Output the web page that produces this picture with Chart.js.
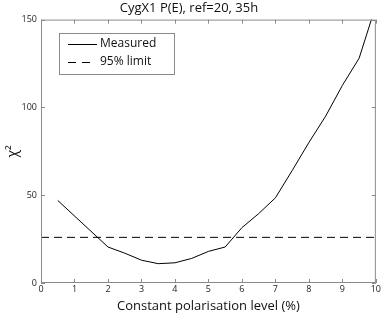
<!DOCTYPE html>
<html>
<head>
<meta charset="utf-8">
<script src="https://cdn.jsdelivr.net/npm/chart.js@4/dist/chart.umd.min.js"></script>
<style>
  html, body { margin: 0; padding: 0; background: #fff; }
  #box { width: 382px; height: 314px; }
</style>
</head>
<body>
<div id="box"><canvas id="grafica"></canvas></div>
<script>
// === datos ===
const nivelPol = [0.5, 2, 2.5, 3, 3.5, 4, 4.5, 5, 5.5, 6, 6.5, 7, 7.5, 8, 8.5, 9, 9.5, 10];
const chiMedido = [47, 20.5, 17, 13, 11, 11.5, 14, 18, 20.5, 31.5, 39.5, 48.5, 64, 80, 95, 112.5, 128, 158];
const limite95 = 26;
const xTicks = [0, 1, 2, 3, 4, 5, 6, 7, 8, 9, 10];
const yTicks = [0, 50, 100, 150];
const etiquetas = ['Measured', '95% limit'];

const fuente = "'Open Sans', 'DejaVu Sans', sans-serif";
const gris = '#8a8a8a';

// marco con ticks hacia dentro (estilo matlab) + leyenda dentro del area
const marcoPlugin = {
    id: 'marco',
    afterDraw(chart) {
        const { ctx, chartArea: a, scales } = chart;
        ctx.save();
        ctx.strokeStyle = gris;
        ctx.lineWidth = 1;
        ctx.strokeRect(a.left + 0.5, a.top + 0.5, a.right - a.left - 1, a.bottom - a.top - 1);
        ctx.beginPath();
        xTicks.forEach(v => {
            const px = Math.round(scales.x.getPixelForValue(v)) + 0.5;
            ctx.moveTo(px, a.bottom); ctx.lineTo(px, a.bottom - 4);
            ctx.moveTo(px, a.top); ctx.lineTo(px, a.top + 4);
        });
        yTicks.forEach(v => {
            const py = Math.round(scales.y.getPixelForValue(v)) + 0.5;
            ctx.moveTo(a.left, py); ctx.lineTo(a.left + 4, py);
            ctx.moveTo(a.right, py); ctx.lineTo(a.right - 4, py);
        });
        ctx.stroke();

        // leyenda
        const lx = 59, ly = 33, lw = 115, lh = 41;
        ctx.fillStyle = '#fff';
        ctx.fillRect(lx, ly, lw, lh);
        ctx.strokeStyle = gris;
        ctx.strokeRect(lx + 0.5, ly + 0.5, lw, lh);
        ctx.strokeStyle = '#000';
        ctx.lineWidth = 1;
        ctx.beginPath();
        ctx.moveTo(68, 44.5); ctx.lineTo(97, 44.5);
        ctx.stroke();
        ctx.beginPath();
        ctx.moveTo(68, 62.5); ctx.lineTo(76, 62.5);
        ctx.moveTo(82, 62.5); ctx.lineTo(90, 62.5);
        ctx.stroke();
        ctx.fillStyle = '#111';
        ctx.font = '12px ' + fuente;
        ctx.textBaseline = 'middle';
        ctx.fillText(etiquetas[0], 100, 44);
        ctx.fillText(etiquetas[1], 100, 62);
        ctx.restore();
    }
};

new Chart(document.getElementById('grafica'), {
    type: 'line',
    data: {
        datasets: [{
            label: etiquetas[0],
            data: nivelPol.map((x, i) => ({ x: x, y: chiMedido[i] })),
            borderColor: '#000',
            borderWidth: 1,
            pointRadius: 0,
            tension: 0
        }, {
            label: etiquetas[1],
            data: [{ x: 0, y: limite95 }, { x: 10, y: limite95 }],
            borderColor: '#000',
            borderWidth: 1,
            borderDash: [8, 5],
            pointRadius: 0
        }]
    },
    options: {
        responsive: true,
        maintainAspectRatio: false,
        animation: false,
        layout: { padding: { left: 0, right: 4, top: 0, bottom: 0 } },
        plugins: {
            legend: { display: false },
            tooltip: { enabled: false },
            title: {
                display: true,
                text: 'CygX1 P(E), ref=20, 35h',
                color: '#111',
                font: { family: fuente, size: 13, weight: 'normal' },
                padding: { top: 0, bottom: 4 }
            }
        },
        scales: {
            x: {
                type: 'linear',
                min: 0,
                max: 10,
                afterBuildTicks: s => { s.ticks = xTicks.map(v => ({ value: v })); },
                afterFit: s => { s.height = 31; },
                ticks: {
                    color: '#222',
                    font: { family: fuente, size: 9 },
                    padding: 1,
                    maxRotation: 0
                },
                grid: { display: false, drawTicks: false },
                border: { display: false },
                title: {
                    display: true,
                    text: 'Constant polarisation level (%)',
                    color: '#111',
                    font: { family: fuente, size: 13 },
                    padding: { top: 0, bottom: 0 }
                }
            },
            y: {
                min: 0,
                max: 150,
                afterBuildTicks: s => { s.ticks = yTicks.map(v => ({ value: v })); },
                afterFit: s => { s.width = 41; },
                ticks: {
                    color: '#222',
                    font: { family: fuente, size: 9 },
                    padding: 4
                },
                grid: { display: false, drawTicks: false },
                border: { display: false },
                title: {
                    display: true,
                    text: 'χ²',
                    color: '#111',
                    font: { family: fuente, size: 14 },
                    padding: { top: 5, bottom: 0 }
                }
            }
        }
    },
    plugins: [marcoPlugin]
});
</script>
</body>
</html>
